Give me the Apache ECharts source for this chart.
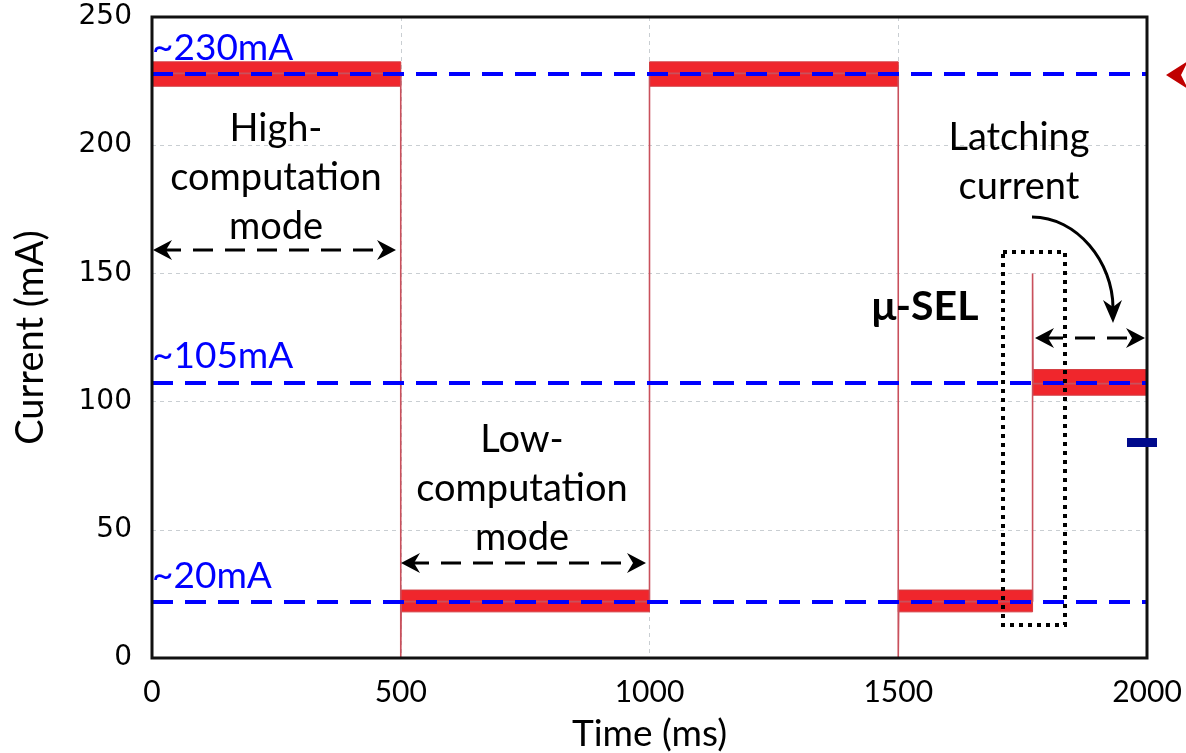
<!DOCTYPE html>
<html>
<head>
<meta charset="utf-8">
<script src="https://cdn.jsdelivr.net/npm/echarts@6/dist/echarts.min.js"></script>
<style>html,body{margin:0;padding:0;background:#fff;}#c{width:1186px;height:753px;}</style>
</head>
<body>
<div id="c"></div>
<script>
// ---- data ----
const xTicks = [0, 500, 1000, 1500, 2000];
const yTicks = [0, 50, 100, 150, 200, 250];
// current trace (time ms, current mA)
const traceTime = [0, 500, 500, 501, 1000, 1000, 1500, 1500, 1501, 1770, 1770, 1771, 2000];
const traceCurrent = [228, 228, 0, 22, 22, 228, 228, 0, 22, 22, 150, 107, 107];
// noise envelope of each mode: [start ms, end ms, low mA, high mA]
const bandStart = [0, 500, 1000, 1500, 1770];
const bandEnd = [500, 1000, 1500, 1770, 2000];
const bandLow = [223, 18, 223, 18, 102.5];
const bandHigh = [232.5, 26.5, 232.5, 26.5, 112.5];
// reference levels
const levelValues = [227.7, 107.5, 21.8];
const levelLabels = ['~230mA', '~105mA', '~20mA'];

const chart = echarts.init(document.getElementById('c'));
const traceData = traceTime.map((t, i) => [t, traceCurrent[i]]);
const bands = bandStart.map((s, i) => [{coord: [s, bandLow[i]]}, {coord: [bandEnd[i], bandHigh[i]]}]);
const levels = levelValues.map((v, i) => ({yAxis: v, label: {formatter: levelLabels[i]}}));

const TXT = {fontFamily: 'Lato', fontSize: 38, fill: '#000', align: 'center', verticalAlign: 'middle', lineHeight: 49};
function dblArrow(x1, x2, y) {
  return [
    {type: 'line', shape: {x1: x1 + 8, y1: y, x2: x2 - 8, y2: y}, style: {stroke: '#000', lineWidth: 3, lineDash: [20, 12]}, z: 100},
    {type: 'polygon', shape: {points: [[x1, y], [x1 + 19, y - 10], [x1 + 13, y], [x1 + 19, y + 10]]}, style: {fill: '#000'}, z: 100},
    {type: 'polygon', shape: {points: [[x2, y], [x2 - 19, y - 10], [x2 - 13, y], [x2 - 19, y + 10]]}, style: {fill: '#000'}, z: 100}
  ];
}

chart.setOption({
  animation: false,
  backgroundColor: '#fff',
  grid: {left: 152, right: 39, top: 17, bottom: 95, containLabel: false, outerBoundsMode: 'none', show: true, borderColor: '#111', borderWidth: 3, backgroundColor: 'transparent', z: 10},
  xAxis: {
    type: 'value', min: 0, max: 2000, interval: 500,
    name: 'Time (ms)', nameLocation: 'middle', nameGap: 58,
    nameTextStyle: {fontFamily: 'Lato', fontSize: 37, color: '#000'},
    axisLine: {show: false}, axisTick: {show: false},
    axisLabel: {fontFamily: 'Lato', fontSize: 30, color: '#000', margin: 19, formatter: v => xTicks.includes(v) ? String(v) : ''},
    splitLine: {show: true, lineStyle: {color: '#c9ced2', type: [4, 4], width: 1}}
  },
  yAxis: {
    type: 'value', min: 0, max: 250, interval: 50,
    name: 'Current (mA)', nameLocation: 'middle', nameGap: 102,
    nameTextStyle: {fontFamily: 'Lato', fontSize: 38, color: '#000'},
    axisLine: {show: false}, axisTick: {show: false},
    axisLabel: {fontFamily: 'DejaVu Sans', fontSize: 28, color: '#000', margin: 20, padding: [10, 0, 0, 0], formatter: v => yTicks.includes(v) ? String(v) : ''},
    splitLine: {show: true, lineStyle: {color: '#c9ced2', type: [4, 4], width: 1}}
  },
  series: [
    {
      type: 'line', data: traceData, symbol: 'none', z: 2,
      lineStyle: {color: '#c9505c', width: 1.6},
      markArea: {silent: true, itemStyle: {color: '#f0262c', borderColor: '#d23c40', borderWidth: 1}, data: bands}
    },
    {
      type: 'line', data: [], z: 5,
      markLine: {
        silent: true, symbol: 'none',
        lineStyle: {color: '#0000ff', width: 4, type: [21, 12]},
        label: {show: true, position: 'insideStartTop', distance: [0, 8], color: '#0000ff', fontFamily: 'Lato', fontSize: 37},
        data: levels
      }
    }
  ],
  graphic: [
    {type: 'text', x: 276, y: 178, style: Object.assign({text: 'High-\ncomputation\nmode'}, TXT), z: 100},
    {type: 'text', x: 522, y: 489, style: Object.assign({text: 'Low-\ncomputation\nmode'}, TXT), z: 100},
    {type: 'text', x: 1019, y: 162, style: Object.assign({text: 'Latching\ncurrent'}, TXT), z: 100},
    {type: 'text', x: 925, y: 307, style: {text: 'μ-SEL', fontFamily: 'Lato', fontWeight: 'bold', fontSize: 41, fill: '#000', align: 'center', verticalAlign: 'middle'}, z: 100},
    ...dblArrow(153, 396, 250),
    ...dblArrow(401, 646, 563),
    ...dblArrow(1035, 1145, 338),
    {type: 'bezierCurve', shape: {x1: 1032, y1: 217, cpx1: 1077, cpy1: 217, cpx2: 1113, cpy2: 262, x2: 1113, y2: 308}, style: {stroke: '#000', lineWidth: 3, fill: null}, z: 100},
    {type: 'polygon', shape: {points: [[1113, 323], [1103, 300], [1113, 307], [1122, 300]]}, style: {fill: '#000'}, z: 100},
    {type: 'rect', shape: {x: 1003, y: 252, width: 62, height: 373}, style: {fill: null, stroke: '#000', lineWidth: 4, lineDash: [4, 5]}, z: 100},
    {type: 'polygon', shape: {points: [[1166, 75], [1188, 61], [1181, 75], [1188, 89]]}, style: {fill: '#c00000'}, z: 100},
    {type: 'rect', shape: {x: 1127, y: 438, width: 30, height: 9}, style: {fill: '#000a8c'}, z: 100}
  ]
});
</script>
</body>
</html>
